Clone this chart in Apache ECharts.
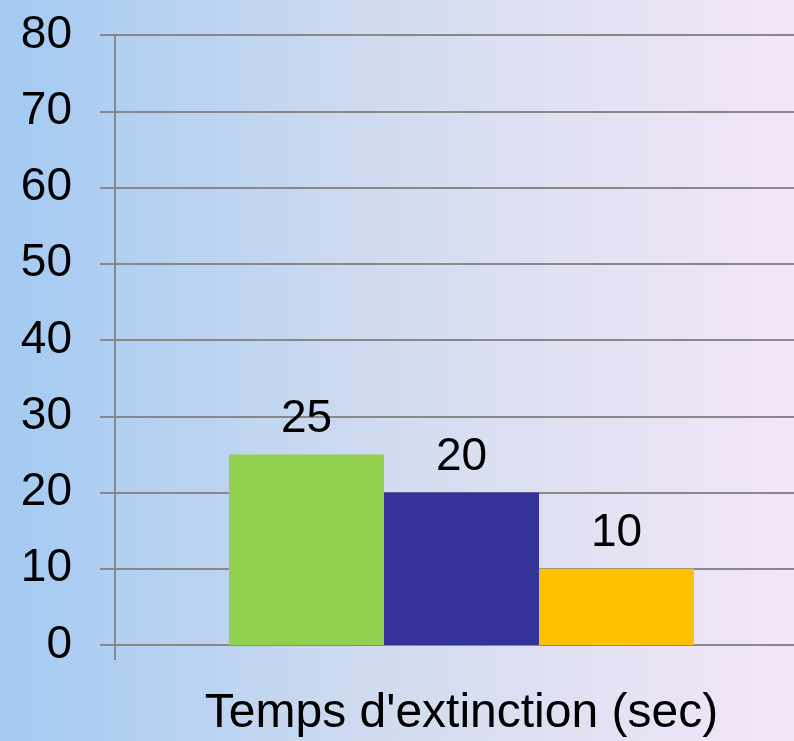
<!DOCTYPE html>
<html>
<head>
<meta charset="utf-8">
<style>
  html, body { margin: 0; padding: 0; }
  #chart { width: 794px; height: 741px; }
</style>
<script src="https://cdn.jsdelivr.net/npm/echarts@6/dist/echarts.min.js"></script>
</head>
<body>
<div id="chart"></div>
<script>
// data
var categories = ["Temps d'extinction (sec)"];
var seriesNames = ['A', 'B', 'C'];
var seriesValues = [[25], [20], [10]];
var seriesColors = ['#92d050', '#333399', '#ffc000'];
var yTicks = { min: 0, max: 80, step: 10 };

var myChart = echarts.init(document.getElementById('chart'));
var font = 'Liberation Sans, Arial, sans-serif';
var grey = '#888888';

var series = [];
for (var i = 0; i < seriesNames.length; i++) {
  series.push({
    name: seriesNames[i],
    type: 'bar',
    data: seriesValues[i],
    barWidth: 155,
    barGap: '0%',
    itemStyle: { color: seriesColors[i] },
    label: {
      show: true,
      position: 'top',
      distance: 12,
      color: '#000',
      fontSize: 46,
      fontFamily: font
    }
  });
}

var option = {
  backgroundColor: new echarts.graphic.LinearGradient(0, 0, 1, 0, [
    { offset: 0, color: '#a3caf2' },
    { offset: 0.5, color: '#d2dcef' },
    { offset: 1, color: '#f4e6f8' }
  ]),
  animation: false,
  // plot runs a little past the right edge, as in the original
  grid: { left: 115, right: -14, top: 35, bottom: 96, outerBoundsMode: 'none' },
  xAxis: {
    type: 'category',
    data: categories,
    axisLine: { lineStyle: { color: grey, width: 2 } },
    axisTick: { show: true, length: 15, lineStyle: { color: grey, width: 2 } },
    axisLabel: { color: '#000', fontSize: 48, fontFamily: font, margin: 45 }
  },
  yAxis: {
    type: 'value',
    min: yTicks.min,
    max: yTicks.max,
    interval: yTicks.step,
    axisLine: { show: true, lineStyle: { color: grey, width: 2 } },
    axisTick: { show: true, length: 15, lineStyle: { color: grey, width: 2 } },
    splitLine: { lineStyle: { color: grey, width: 2 } },
    axisLabel: { color: '#000', fontSize: 46, fontFamily: font, margin: 43 }
  },
  series: series
};
myChart.setOption(option);
</script>
</body>
</html>
